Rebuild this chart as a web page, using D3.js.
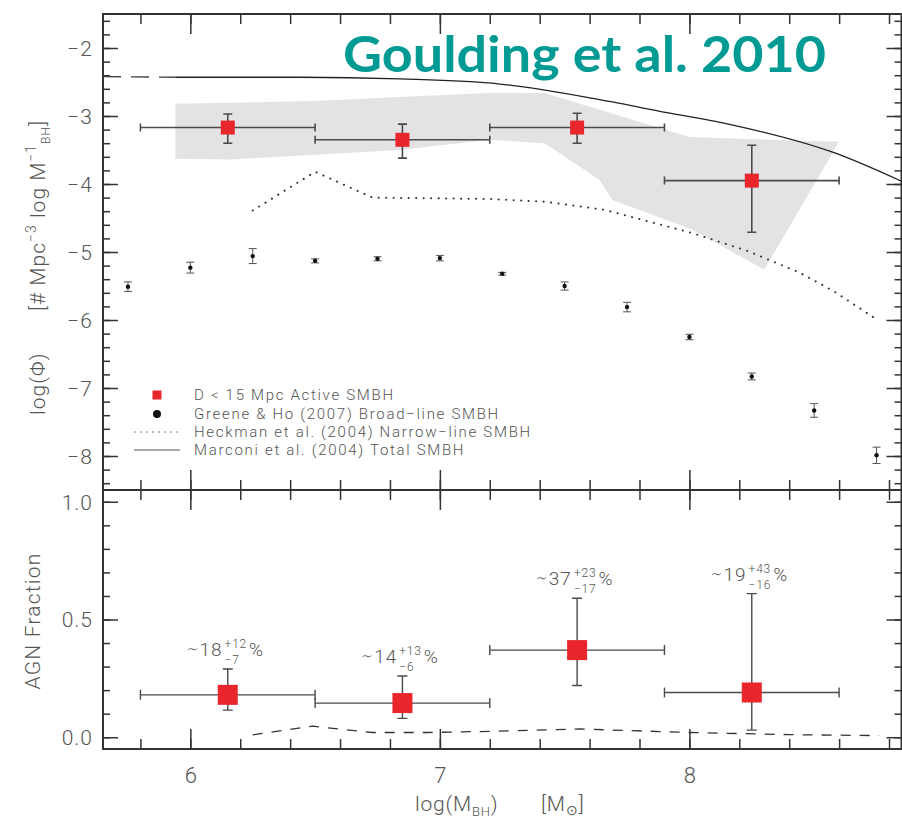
<!DOCTYPE html>
<html>
<head>
<meta charset="utf-8">
<script src="https://cdn.jsdelivr.net/npm/d3@7"></script>
<style>
  body { margin: 0; background: #fff; }
  svg { display: block; }
  .tick line { stroke: #333; stroke-width: 1.5; }
  .tick text { fill: #555; font-family: Roboto, "DejaVu Sans", sans-serif; font-weight: 300; }
  .lbl { fill: #555; font-family: Roboto, "DejaVu Sans", sans-serif; font-weight: 300; }
</style>
</head>
<body>
<div id="chart"></div>
<script>
// bins of the D < 15 Mpc sample
const binCenter = [6.15, 6.85, 7.55, 8.25];
const binLo = [5.8, 6.5, 7.2, 7.9];
const binHi = [6.5, 7.2, 7.9, 8.6];

// top panel, active SMBH mass function
const activePhi = [-3.17, -3.35, -3.17, -3.95];
const activePhiHi = [-2.97, -3.12, -2.96, -3.43];
const activePhiLo = [-3.40, -3.62, -3.40, -4.71];

// grey uncertainty band (outline, clockwise)
const bandMass = [5.94, 6.50, 6.84, 7.20, 7.42, 8.00, 8.60, 8.30, 8.01, 7.69, 7.64, 7.42, 7.20, 6.84, 6.50, 6.16, 5.94];
const bandPhi = [-2.82, -2.78, -2.72, -2.66, -2.66, -3.31, -3.38, -5.26, -4.67, -4.23, -3.94, -3.40, -3.35, -3.50, -3.57, -3.64, -3.63];

// Greene & Ho (2007) broad-line
const ghMass = [5.75, 6.0, 6.25, 6.5, 6.75, 7.0, 7.25, 7.5, 7.75, 8.0, 8.25, 8.5, 8.75];
const ghPhi = [-5.51, -5.23, -5.06, -5.13, -5.10, -5.09, -5.32, -5.50, -5.81, -6.25, -6.83, -7.33, -7.99];
const ghErr = [0.07, 0.08, 0.11, 0.03, 0.03, 0.04, 0.02, 0.06, 0.07, 0.04, 0.05, 0.10, 0.12];

// Heckman et al. (2004) narrow-line
const heckMass = [6.25, 6.50, 6.73, 7.20, 7.42, 7.66, 8.01, 8.23, 8.44, 8.58, 8.75];
const heckPhi = [-4.39, -3.82, -4.20, -4.22, -4.26, -4.38, -4.72, -4.98, -5.30, -5.58, -5.99];

// Marconi et al. (2004) total
const marcMass = [5.94, 6.44, 6.84, 7.24, 7.64, 7.91, 8.17, 8.58, 8.85];
const marcPhi = [-2.43, -2.43, -2.455, -2.53, -2.76, -2.95, -3.13, -3.54, -3.96];
const marcDashMass = [5.65, 5.94];
const marcDashPhi = [-2.42, -2.43];

// bottom panel, AGN fraction
const agnFrac = [0.18, 0.145, 0.37, 0.19];
const agnFracHi = [0.29, 0.26, 0.59, 0.61];
const agnFracLo = [0.115, 0.08, 0.22, 0.03];
const fracLabel = ["18", "14", "37", "19"];
const fracPlus = ["12", "13", "23", "43"];
const fracMinus = ["7", "6", "17", "16"];

const floorMass = [6.25, 6.49, 6.73, 6.95, 7.20, 7.56, 8.00, 8.40, 8.76];
const floorFrac = [0.01, 0.047, 0.02, 0.02, 0.025, 0.035, 0.02, 0.011, 0.007];

const legendLabels = [
  "D < 15 Mpc Active SMBH",
  "Greene & Ho (2007) Broad\u2212line SMBH",
  "Heckman et al. (2004) Narrow\u2212line SMBH",
  "Marconi et al. (2004) Total SMBH"
];

const phiMajor = [-8, -7, -6, -5, -4, -3, -2];
const fracMajor = [0, 0.5, 1.0];
const massMajor = [6, 7, 8];

const W = 902, H = 820;
const left = 103, right = 901.5, top1 = 14, mid = 490, bot = 749;
const red = "#e8262b", ink = "#333", errc = "#4a4a4a";

const svg = d3.select("#chart").append("svg").attr("width", W).attr("height", H);

const x = d3.scaleLinear().domain([5.65, 8.85]).range([left, right]);
const yPhi = d3.scaleLinear().domain([-8.5, -1.5]).range([mid, top1]);
const yFrac = d3.scaleLinear().domain([-0.05, 1.05]).range([bot, mid]);

const rng = (a, b, s) => d3.range(Math.round((b - a) / s) + 1).map(i => +(a + i * s).toFixed(3));
const phiMinor = rng(-8.4, -1.6, 0.2);
const fracMinor = rng(0, 1.0, 0.1);
const massMinor = rng(5.8, 8.8, 0.2);

svg.append("clipPath").attr("id", "clipTop")
  .append("rect").attr("x", left).attr("y", top1).attr("width", right - left).attr("height", mid - top1);
svg.append("clipPath").attr("id", "clipBot")
  .append("rect").attr("x", left).attr("y", mid).attr("width", right - left).attr("height", bot - mid);

// ---------- axes ----------
function axis(gen, scale, vals, size, tx, ty, fmt) {
  const g = svg.append("g").attr("transform", `translate(${tx},${ty})`)
    .call(gen(scale).tickValues(vals).tickSize(size).tickFormat(fmt || ""));
  g.select(".domain").remove();
  return g;
}
// left / right y axes
axis(d3.axisRight, yPhi, phiMinor, 7, left, 0);
const lp = axis(d3.axisRight, yPhi, phiMajor, 15, left, 0, d => "\u2212" + Math.abs(d));
lp.selectAll("text").attr("x", -10).attr("text-anchor", "end").attr("font-size", 21).attr("dy", "0.35em").attr("letter-spacing", 1);
axis(d3.axisLeft, yPhi, phiMinor, 7, right, 0);
axis(d3.axisLeft, yPhi, phiMajor, 15, right, 0);

axis(d3.axisRight, yFrac, fracMinor, 7, left, 0);
const lf = axis(d3.axisRight, yFrac, fracMajor, 15, left, 0, d3.format(".1f"));
lf.selectAll("text").attr("x", -10).attr("text-anchor", "end").attr("font-size", 21).attr("dy", "0.35em").attr("letter-spacing", 1);
axis(d3.axisLeft, yFrac, fracMinor, 7, right, 0);
axis(d3.axisLeft, yFrac, fracMajor, 15, right, 0);

// x axes
axis(d3.axisBottom, x, massMinor, 10, 0, top1);
axis(d3.axisBottom, x, massMajor, 20, 0, top1);
axis(d3.axisTop, x, massMinor, 10, 0, mid);
axis(d3.axisTop, x, massMajor, 20, 0, mid);
axis(d3.axisBottom, x, massMinor, 10, 0, mid);
axis(d3.axisBottom, x, massMajor, 20, 0, mid);
axis(d3.axisTop, x, massMinor, 10, 0, bot);
const lx = axis(d3.axisTop, x, massMajor, 20, 0, bot, d3.format("d"));
lx.selectAll("text").attr("y", 34).attr("dy", 0).attr("font-size", 22);

// frame
svg.append("path")
  .attr("d", `M${left},${top1}H${right}V${bot}H${left}Z M${left},${mid}H${right}`)
  .attr("fill", "none").attr("stroke", ink).attr("stroke-width", 2);

// ---------- top panel ----------
const pTop = svg.append("g").attr("clip-path", "url(#clipTop)");

pTop.append("path")
  .attr("d", d3.line()(bandMass.map((m, i) => [x(m), yPhi(bandPhi[i])])) + "Z")
  .attr("fill", "#e3e3e6").attr("stroke", "none");

const lineP = d3.line().x(d => x(d[0])).y(d => yPhi(d[1])).curve(d3.curveMonotoneX);
pTop.append("path").attr("d", lineP(marcMass.map((m, i) => [m, marcPhi[i]])))
  .attr("fill", "none").attr("stroke", "#222").attr("stroke-width", 1.3);
pTop.append("path").attr("d", d3.line().x(d => x(d[0])).y(d => yPhi(d[1]))(marcDashMass.map((m, i) => [m, marcDashPhi[i]])))
  .attr("fill", "none").attr("stroke", "#444").attr("stroke-width", 1.3).attr("stroke-dasharray", "18,10");

pTop.append("path")
  .attr("d", d3.line().x(d => x(d[0])).y(d => yPhi(d[1]))(heckMass.map((m, i) => [m, heckPhi[i]])))
  .attr("fill", "none").attr("stroke", "#333").attr("stroke-width", 2)
  .attr("stroke-linecap", "round").attr("stroke-dasharray", "0.1,7.4");

// Greene & Ho points
const gh = pTop.append("g");
ghMass.forEach((m, i) => {
  const cx = x(m), y1 = yPhi(ghPhi[i] + ghErr[i]), y2 = yPhi(ghPhi[i] - ghErr[i]);
  gh.append("path").attr("d", `M${cx},${y1}V${y2}M${cx - 4},${y1}H${cx + 4}M${cx - 4},${y2}H${cx + 4}`)
    .attr("stroke", "#555").attr("stroke-width", 1).attr("fill", "none");
  gh.append("circle").attr("cx", cx).attr("cy", yPhi(ghPhi[i])).attr("r", 2.2).attr("fill", "#111");
});

// active SMBH points
const act = pTop.append("g");
binCenter.forEach((m, i) => {
  const cx = x(m), cy = yPhi(activePhi[i]);
  const xa = x(binLo[i]), xb = x(binHi[i]), ya = yPhi(activePhiHi[i]), yb = yPhi(activePhiLo[i]);
  act.append("path")
    .attr("d", `M${xa},${cy}H${xb}M${xa},${cy - 4}V${cy + 4}M${xb},${cy - 4}V${cy + 4}` +
               `M${cx},${ya}V${yb}M${cx - 4.5},${ya}H${cx + 4.5}M${cx - 4.5},${yb}H${cx + 4.5}`)
    .attr("stroke", errc).attr("stroke-width", 1.6).attr("fill", "none");
  act.append("rect").attr("x", cx - 7).attr("y", cy - 7).attr("width", 14).attr("height", 14).attr("fill", red);
});

// legend
const leg = svg.append("g");
const legY = [395, 414, 432, 450];
leg.append("rect").attr("x", 152.5).attr("y", legY[0] - 4.5).attr("width", 9).attr("height", 9).attr("fill", red);
leg.append("circle").attr("cx", 157).attr("cy", legY[1]).attr("r", 4).attr("fill", "#111");
leg.append("line").attr("x1", 134).attr("x2", 180).attr("y1", legY[2]).attr("y2", legY[2])
  .attr("stroke", "#777").attr("stroke-width", 1).attr("stroke-dasharray", "2,4");
leg.append("line").attr("x1", 134).attr("x2", 180).attr("y1", legY[3]).attr("y2", legY[3])
  .attr("stroke", "#555").attr("stroke-width", 1);
legendLabels.forEach((t, i) => {
  leg.append("text").attr("class", "lbl").attr("x", 194).attr("y", legY[i] + 5)
    .attr("font-size", 15).attr("fill", "#777").attr("letter-spacing", 1.7).text(t);
});

// ---------- bottom panel ----------
const pBot = svg.append("g").attr("clip-path", "url(#clipBot)");
pBot.append("path")
  .attr("d", d3.line().x(d => x(d[0])).y(d => yFrac(d[1]))(floorMass.map((m, i) => [m, floorFrac[i]])))
  .attr("fill", "none").attr("stroke", "#333").attr("stroke-width", 1.3).attr("stroke-dasharray", "10,9");

binCenter.forEach((m, i) => {
  const cx = x(m), cy = yFrac(agnFrac[i]);
  const xa = x(binLo[i]), xb = x(binHi[i]), ya = yFrac(agnFracHi[i]), yb = yFrac(agnFracLo[i]);
  pBot.append("path")
    .attr("d", `M${xa},${cy}H${xb}M${xa},${cy - 5}V${cy + 5}M${xb},${cy - 5}V${cy + 5}` +
               `M${cx},${ya}V${yb}M${cx - 5},${ya}H${cx + 5}M${cx - 5},${yb}H${cx + 5}`)
    .attr("stroke", errc).attr("stroke-width", 1.4).attr("fill", "none");
  pBot.append("rect").attr("x", cx - 10).attr("y", cy - 10).attr("width", 20).attr("height", 20).attr("fill", red);

  // percentage label with super/subscript
  const g = svg.append("g");
  const main = g.append("text").attr("class", "lbl").attr("font-size", 19).attr("letter-spacing", 1)
    .text("\u223c" + fracLabel[i]);
  const w = main.node().getComputedTextLength() + 2;
  const sup = g.append("text").attr("class", "lbl").attr("x", w).attr("y", -8).attr("font-size", 12).attr("letter-spacing", 0.8).text("+" + fracPlus[i]);
  const sub = g.append("text").attr("class", "lbl").attr("x", w).attr("y", 8).attr("font-size", 12).attr("letter-spacing", 0.8).text("\u2212" + fracMinus[i]);
  const sw = Math.max(sup.node().getComputedTextLength(), sub.node().getComputedTextLength());
  const pc = g.append("text").attr("class", "lbl").attr("x", w + sw + 2).attr("font-size", 19).text("%");
  const tot = w + sw + 2 + pc.node().getComputedTextLength();
  g.attr("transform", `translate(${cx - tot / 2 - 3},${ya - 13})`);
});

// ---------- axis titles ----------
svg.append("text").attr("class", "lbl").attr("font-size", 21).attr("letter-spacing", 1)
  .attr("transform", "translate(45,415) rotate(-90)").text("log(\u03a6)");
const yt = svg.append("text").attr("class", "lbl").attr("font-size", 21).attr("letter-spacing", 1)
  .attr("transform", "translate(45,311) rotate(-90)");
yt.append("tspan").text("[# Mpc");
yt.append("tspan").attr("font-size", 14).attr("dy", -9).text("\u22123");
yt.append("tspan").attr("dy", 9).text(" log M");
yt.append("tspan").attr("font-size", 14).attr("dy", -9).text("\u22121");
yt.append("tspan").attr("font-size", 12).attr("dy", 14).text("BH");
yt.append("tspan").attr("dy", -5).text("]");

svg.append("text").attr("class", "lbl").attr("font-size", 21).attr("letter-spacing", 1.2)
  .attr("text-anchor", "middle").attr("transform", "translate(40,621) rotate(-90)").text("AGN Fraction");

const xt = svg.append("text").attr("class", "lbl").attr("font-size", 21).attr("x", 415).attr("y", 811).attr("letter-spacing", 0.8);
xt.append("tspan").text("log(M");
xt.append("tspan").attr("font-size", 13).attr("dy", 5).text("BH");
xt.append("tspan").attr("dy", -5).text(")");
const xt2 = svg.append("text").attr("class", "lbl").attr("font-size", 21).attr("x", 541).attr("y", 811).attr("letter-spacing", 0.8);
xt2.append("tspan").text("[M");
xt2.append("tspan").attr("font-size", 14).attr("dy", 4).attr("font-family", "DejaVu Sans").text("\u2299");
xt2.append("tspan").attr("dy", -4).text("]");

// ---------- title ----------
svg.append("text").attr("x", 343).attr("y", 72)
  .attr("font-family", "Lato, 'Open Sans', sans-serif").attr("font-weight", 700).attr("font-size", 50)
  .attr("fill", "#009a94").attr("textLength", 483).attr("lengthAdjust", "spacingAndGlyphs")
  .text("Goulding et al. 2010");
</script>
</body>
</html>
